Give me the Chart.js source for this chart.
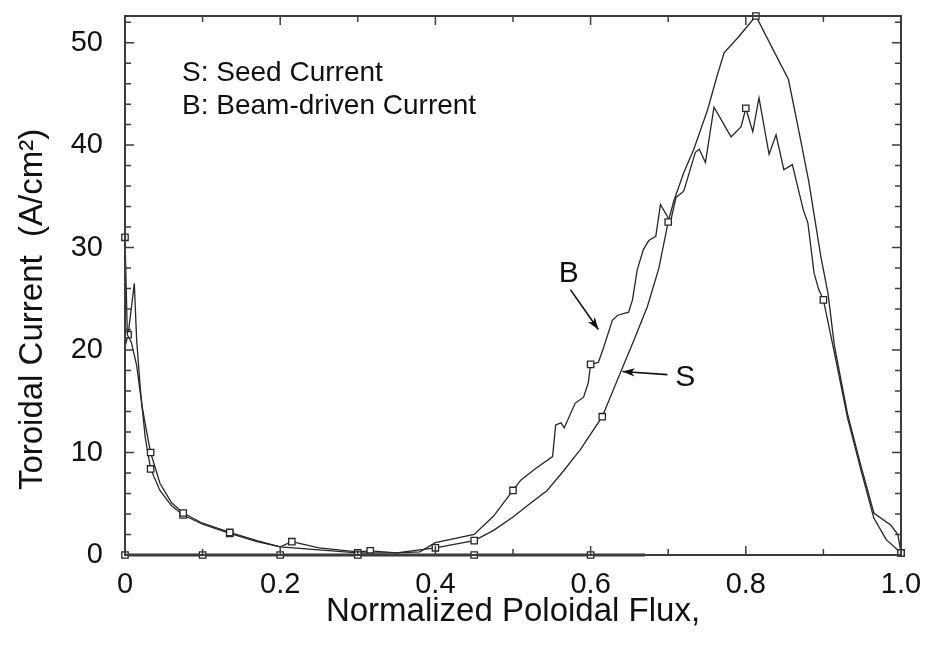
<!DOCTYPE html>
<html>
<head>
<meta charset="utf-8">
<script src="https://cdn.jsdelivr.net/npm/chart.js@4/dist/chart.umd.min.js"></script>
<style>
    html, body { margin: 0; padding: 0; background: #fff; }
    #wrap { width: 927px; height: 646px; }
</style>
</head>
<body>
<div id="wrap"><canvas id="currentChart"></canvas></div>
<script>
// seed current (S)
const seedX = [0, 0.003, 0.008, 0.015, 0.022, 0.028, 0.033, 0.045, 0.06, 0.075, 0.1, 0.135, 0.17, 0.2,
    0.25, 0.3, 0.35, 0.4, 0.45, 0.475, 0.5, 0.52, 0.544, 0.565, 0.587, 0.615, 0.639, 0.655,
    0.673, 0.688, 0.7, 0.707, 0.72, 0.733, 0.751, 0.762, 0.772, 0.79, 0.813, 0.836, 0.855, 0.868,
    0.881, 0.897, 0.906, 0.914, 0.931, 0.948, 0.965, 0.987, 0.996, 1.0];
const seedY = [31, 21.5, 20.8, 18.5, 14.5, 12, 10, 7, 5.1, 4.1, 3.1, 2.2, 1.4, 0.8,
    0.5, 0.2, 0.2, 0.7, 1.4, 2.4, 3.7, 4.9, 6.3, 8.2, 10.3, 13.5, 17.9, 20.8,
    24.2, 28, 32.5, 34.5, 37.3, 39.6, 43.5, 46.5, 49, 50.5, 52.6, 49.2, 46.4, 41.5,
    36.5, 29, 25.5, 20.5, 13.8, 8.8, 4.1, 2.9, 2.0, 0.2];
const seedMarks = [0, 0.033, 0.075, 0.135, 0.3, 0.4, 0.45, 0.615, 0.7, 0.813, 1.0];

// beam-driven current (B)
const beamX = [0, 0.004, 0.008, 0.012, 0.015, 0.02, 0.026, 0.033, 0.045, 0.06, 0.075, 0.1, 0.135, 0.17,
    0.2, 0.215, 0.25, 0.3, 0.316, 0.35, 0.38, 0.4, 0.45, 0.475, 0.5, 0.51, 0.53, 0.551, 0.555,
    0.562, 0.566, 0.58, 0.591, 0.597, 0.6, 0.61, 0.617, 0.628, 0.635, 0.649, 0.654, 0.66, 0.668,
    0.675, 0.684, 0.69, 0.703, 0.71, 0.72, 0.735, 0.74, 0.748, 0.759, 0.781, 0.794, 0.8, 0.809,
    0.817, 0.83, 0.839, 0.849, 0.86, 0.874, 0.88, 0.888, 0.894, 0.9, 0.914, 0.931, 0.948, 0.965,
    0.981, 1.0];
const beamY = [20.3, 21.5, 24, 26.5, 21, 16, 11.5, 8.4, 6.3, 4.8, 3.9, 3.0, 2.1, 1.3,
    0.8, 1.3, 0.7, 0.3, 0.4, 0.2, 0.3, 1.2, 2.0, 3.8, 6.3, 7.3, 8.5, 9.6, 12.7,
    12.9, 12.4, 14.8, 15.4, 16.8, 18.6, 18.8, 20.3, 22.9, 23.4, 23.7, 24.9, 27.8, 29.8,
    30.7, 31.1, 34.2, 32.5, 34.9, 35.5, 39.3, 39.6, 38.3, 43.7, 40.8, 41.8, 43.6, 41.3,
    44.6, 39.1, 41.0, 37.6, 38.1, 33.7, 32.4, 27.5, 25.9, 24.9, 19.8, 13.4, 8.4, 3.6,
    1.5, 0.2];
const beamMarks = [0.004, 0.033, 0.075, 0.135, 0.215, 0.316, 0.5, 0.6, 0.8, 0.9, 1.0];

// zero-level trace along the axis
const zeroX = [0, 0.1, 0.2, 0.3, 0.4, 0.45, 0.6, 0.67];
const zeroY = [0, 0, 0, 0, 0, 0, 0, 0];
const zeroMarks = [0, 0.1, 0.2, 0.3, 0.45, 0.6];

const xTickValues = [0, 0.2, 0.4, 0.6, 0.8, 1.0];
const xTickLabels = ['0', '0.2', '0.4', '0.6', '0.8', '1.0'];
const yTickLabels = ['0', '10', '20', '30', '40', '50'];

const legendLines = ['S: Seed Current', 'B: Beam-driven Current'];
const xTitle = 'Normalized Poloidal Flux,';
const yTitle = 'Toroidal Current  (A/cm\u00B2)';

const FONT = '"Liberation Sans", Arial, sans-serif';
const INK = '#262626';

const toPoints = (xs, ys) => xs.map((x, i) => ({ x: x, y: ys[i] }));
const markRadius = (marks) => (c) => (c.raw && marks.includes(c.raw.x) ? 4.5 : 0);

// frame, inward ticks, titles and annotations
const decorations = {
    id: 'decorations',
    afterDatasetsDraw(chart) {
        const { ctx, chartArea: a, scales: { x, y } } = chart;
        ctx.save();
        ctx.strokeStyle = '#3c3c3c';
        ctx.lineWidth = 2;
        ctx.strokeRect(a.left, a.top, a.right - a.left, a.bottom - a.top);

        ctx.lineWidth = 1.5;
        ctx.beginPath();
        for (let i = 0; i <= 10; i++) {
            const px = x.getPixelForValue(i / 10);
            const len = i % 2 === 0 ? 9 : 6;
            ctx.moveTo(px, a.bottom); ctx.lineTo(px, a.bottom - len);
            ctx.moveTo(px, a.top); ctx.lineTo(px, a.top + len);
        }
        for (let v = 0; v <= 52; v += 2) {
            const py = y.getPixelForValue(v);
            const len = v % 10 === 0 ? 9 : 6;
            ctx.moveTo(a.left, py); ctx.lineTo(a.left + len, py);
            ctx.moveTo(a.right, py); ctx.lineTo(a.right - len, py);
        }
        ctx.stroke();

        ctx.fillStyle = '#111';
        ctx.textAlign = 'left';
        ctx.textBaseline = 'middle';
        ctx.font = '28px ' + FONT;
        ctx.fillText(legendLines[0], x.getPixelForValue(0.0735), y.getPixelForValue(47.0));
        ctx.fillText(legendLines[1], x.getPixelForValue(0.0735), y.getPixelForValue(43.8));

        // curve labels with arrows
        ctx.font = '30px ' + FONT;
        ctx.textAlign = 'center';
        ctx.fillText('B', x.getPixelForValue(0.572), y.getPixelForValue(27.4));
        ctx.fillText('S', x.getPixelForValue(0.722), y.getPixelForValue(17.3));
        const arrow = (x0, y0, x1, y1) => {
            const ax = x.getPixelForValue(x0), ay = y.getPixelForValue(y0);
            const bx = x.getPixelForValue(x1), by = y.getPixelForValue(y1);
            const ang = Math.atan2(by - ay, bx - ax);
            ctx.lineWidth = 1.6;
            ctx.strokeStyle = '#111';
            ctx.beginPath();
            ctx.moveTo(ax, ay); ctx.lineTo(bx, by);
            ctx.stroke();
            ctx.beginPath();
            ctx.moveTo(bx, by);
            ctx.lineTo(bx - 13 * Math.cos(ang - 0.33), by - 13 * Math.sin(ang - 0.33));
            ctx.lineTo(bx - 9 * Math.cos(ang), by - 9 * Math.sin(ang));
            ctx.lineTo(bx - 13 * Math.cos(ang + 0.33), by - 13 * Math.sin(ang + 0.33));
            ctx.closePath();
            ctx.fill();
        };
        arrow(0.574, 25.9, 0.61, 22.0);
        arrow(0.699, 17.6, 0.641, 17.9);

        // y axis title
        ctx.save();
        ctx.translate(33, (y.getPixelForValue(0) + y.getPixelForValue(52.6)) / 2 + 24);
        ctx.rotate(-Math.PI / 2);
        ctx.font = '33px ' + FONT;
        ctx.textAlign = 'center';
        ctx.textBaseline = 'middle';
        ctx.fillText(yTitle, 0, 0);
        ctx.restore();

        ctx.restore();
    }
};

const lineStyle = {
    borderColor: INK,
    borderWidth: 1.3,
    pointStyle: 'rect',
    pointBackgroundColor: '#fff',
    pointBorderColor: INK,
    pointBorderWidth: 1.3,
    pointHoverRadius: 0,
    tension: 0,
    fill: false
};

new Chart(document.getElementById('currentChart'), {
    type: 'scatter',
    data: {
        datasets: [
            Object.assign({ label: 'Zero', data: toPoints(zeroX, zeroY), showLine: true,
                pointRadius: markRadius(zeroMarks) }, lineStyle, { borderWidth: 3, borderColor: '#333' }),
            Object.assign({ label: 'S', data: toPoints(seedX, seedY), showLine: true,
                pointRadius: markRadius(seedMarks) }, lineStyle),
            Object.assign({ label: 'B', data: toPoints(beamX, beamY), showLine: true,
                pointRadius: markRadius(beamMarks) }, lineStyle)
        ]
    },
    options: {
        responsive: true,
        maintainAspectRatio: false,
        animation: false,
        clip: false,
        layout: { padding: { left: 0, right: 26, top: 16, bottom: 0 } },
        plugins: {
            legend: { display: false },
            tooltip: { enabled: false }
        },
        scales: {
            x: {
                type: 'linear',
                min: 0,
                max: 1,
                afterFit: (s) => { s.height = 91; s.paddingLeft = 0; s.paddingRight = 0; },
                afterBuildTicks: (s) => { s.ticks = xTickValues.map(v => ({ value: v })); },
                ticks: {
                    padding: 5,
                    color: '#111',
                    font: { family: FONT, size: 29 },
                    maxRotation: 0,
                    callback: (v) => xTickLabels[xTickValues.indexOf(v)]
                },
                grid: { display: false },
                border: { display: false },
                title: {
                    display: true,
                    text: xTitle,
                    color: '#111',
                    font: { family: FONT, size: 33 },
                    padding: { top: 0, bottom: 14 }
                }
            },
            y: {
                type: 'linear',
                min: 0,
                max: 52.6,
                afterFit: (s) => { s.width = 125; s.paddingTop = 0; s.paddingBottom = 0; },
                ticks: {
                    stepSize: 10,
                    includeBounds: false,
                    padding: 14,
                    color: '#111',
                    font: { family: FONT, size: 29 },
                    callback: (v) => yTickLabels[v / 10]
                },
                grid: { display: false },
                border: { display: false }
            }
        }
    },
    plugins: [decorations]
});
</script>
</body>
</html>
